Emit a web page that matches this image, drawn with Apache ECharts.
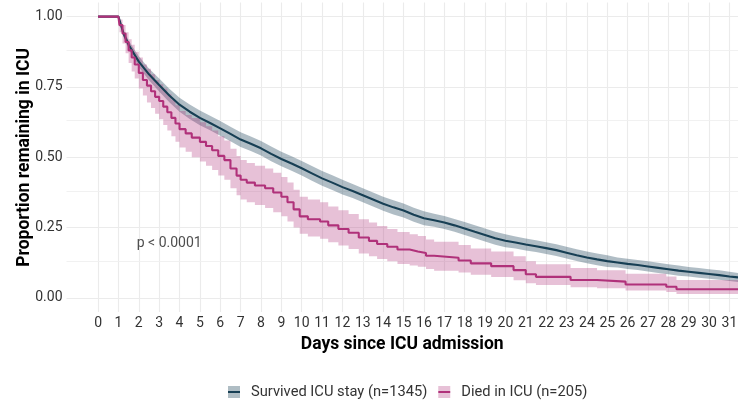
<!DOCTYPE html>
<html>
<head>
<meta charset="utf-8">
<script src="https://cdn.jsdelivr.net/npm/echarts@6/dist/echarts.min.js"></script>
<style>html,body{margin:0;padding:0;background:#fff}#c{width:738px;height:406px}</style>
</head>
<body>
<div id="c"></div>
<script>
// ---------- data ----------
const xTicks = [0,1,2,3,4,5,6,7,8,9,10,11,12,13,14,15,16,17,18,19,20,21,22,23,24,25,26,27,28,29,30,31];
const yTicks = [0, 0.25, 0.5, 0.75, 1];
const yMinorTicks = [0.125, 0.375, 0.625, 0.875];
const seriesNames = ['Survived ICU stay (n=1345)', 'Died in ICU (n=205)'];

const survTime  = [0,1,1.25,1.5,1.75,2,2.5,3,3.5,4,4.5,5,5.5,6,6.5,7,7.5,8,8.5,9,9.5,10,10.5,11,11.5,12,12.5,13,13.5,14,14.5,15,15.5,16,16.5,17,17.5,18,18.5,19,19.5,20,20.5,21,21.5,22,22.5,23,23.5,24,24.5,25,25.5,26,26.5,27,27.5,28,28.5,29,29.5,30,30.5,31,31.42];
const survProb  = [1,1,0.94,0.90,0.87,0.84,0.795,0.757,0.72,0.687,0.662,0.64,0.622,0.603,0.583,0.563,0.548,0.532,0.512,0.494,0.478,0.461,0.443,0.425,0.41,0.394,0.38,0.365,0.35,0.335,0.322,0.311,0.296,0.283,0.276,0.268,0.258,0.247,0.235,0.224,0.212,0.203,0.197,0.19,0.184,0.177,0.17,0.161,0.152,0.144,0.137,0.131,0.126,0.121,0.117,0.112,0.107,0.102,0.097,0.093,0.089,0.085,0.081,0.076,0.073];
const survUpper = [1,1,0.952,0.915,0.887,0.859,0.816,0.780,0.744,0.712,0.688,0.666,0.648,0.629,0.609,0.589,0.574,0.558,0.538,0.520,0.504,0.487,0.469,0.451,0.436,0.420,0.405,0.390,0.375,0.360,0.347,0.336,0.321,0.308,0.299,0.291,0.281,0.270,0.258,0.247,0.235,0.226,0.218,0.211,0.205,0.198,0.191,0.182,0.173,0.165,0.158,0.152,0.144,0.139,0.135,0.130,0.125,0.120,0.115,0.110,0.106,0.102,0.098,0.093,0.089];
const survLower = [1,1,0.928,0.885,0.853,0.821,0.774,0.734,0.696,0.662,0.636,0.614,0.596,0.577,0.557,0.537,0.522,0.506,0.486,0.468,0.452,0.435,0.417,0.399,0.384,0.368,0.355,0.340,0.325,0.310,0.297,0.286,0.271,0.258,0.253,0.245,0.235,0.224,0.212,0.201,0.189,0.180,0.176,0.169,0.163,0.156,0.149,0.140,0.131,0.123,0.116,0.110,0.108,0.103,0.099,0.094,0.089,0.084,0.079,0.076,0.072,0.068,0.065,0.060,0.057];

const diedTime  = [0,1,1.05,1.2,1.35,1.5,1.65,1.8,2,2.2,2.4,2.6,2.8,3,3.2,3.4,3.6,3.8,4,4.3,4.6,5,5.3,5.6,5.9,6.2,6.5,6.8,7,7.3,7.7,8.2,8.6,9,9.3,9.6,9.9,10.3,10.9,11.3,11.8,12.3,12.8,13.3,13.7,14.2,14.7,15.3,15.7,16.1,16.5,17.7,18.3,19.3,20.4,21.0,21.5,23.2,24.5,25.9,27.9,28.4,31.42];
const diedProb  = [1,1,0.97,0.94,0.91,0.88,0.855,0.83,0.80,0.775,0.755,0.735,0.715,0.70,0.68,0.66,0.64,0.62,0.60,0.585,0.57,0.555,0.54,0.525,0.505,0.49,0.46,0.435,0.42,0.41,0.40,0.39,0.375,0.36,0.34,0.315,0.29,0.28,0.272,0.258,0.245,0.232,0.215,0.203,0.192,0.182,0.172,0.165,0.160,0.150,0.143,0.133,0.123,0.113,0.099,0.084,0.075,0.064,0.058,0.048,0.040,0.031,0.031];
const diedUpper = [1,1,0.99,0.97,0.945,0.92,0.90,0.875,0.855,0.83,0.815,0.795,0.775,0.76,0.745,0.725,0.705,0.685,0.665,0.65,0.64,0.625,0.61,0.595,0.575,0.56,0.53,0.505,0.49,0.48,0.47,0.46,0.445,0.43,0.41,0.385,0.36,0.35,0.34,0.325,0.312,0.298,0.28,0.268,0.256,0.245,0.234,0.226,0.22,0.208,0.2,0.188,0.176,0.165,0.148,0.13,0.12,0.106,0.098,0.086,0.076,0.064,0.064];
const diedLower = [1,1,0.945,0.905,0.87,0.835,0.805,0.78,0.745,0.72,0.695,0.675,0.655,0.635,0.615,0.595,0.575,0.555,0.535,0.52,0.50,0.485,0.47,0.455,0.435,0.42,0.39,0.365,0.35,0.34,0.33,0.32,0.305,0.29,0.272,0.25,0.228,0.218,0.21,0.198,0.186,0.174,0.158,0.148,0.138,0.13,0.121,0.115,0.111,0.103,0.097,0.09,0.082,0.074,0.063,0.052,0.046,0.038,0.034,0.026,0.021,0.014,0.014];

const pValueText = 'p < 0.0001';
const pValuePos = [1.9, 0.195];

// ---------- styles ----------
const survColor = '#173F54';
const diedColor = '#B0317A';
const survBand = 'rgba(23,63,84,0.34)';
const diedBand = 'rgba(176,49,122,0.30)';
const survBandSolid = '#afbdc4';
const diedBandSolid = '#e7c1d7';
const FONT = 'Roboto';
const legendIcon = 'path://M0,0H10V4.15H0Z M0,5.85H10V10H0Z';

function bandSeries(t, lo, up, fill, step) {
  return {
    type: 'custom', silent: true, z: 1, clip: true,
    data: [[t[0], lo[0]]],
    encode: { x: 0, y: 1 },
    renderItem: function (params, api) {
      const pts = [];
      for (let i = 0; i < t.length; i++) {
        pts.push(api.coord([t[i], up[i]]));
        if (step && i < t.length - 1) pts.push(api.coord([t[i + 1], up[i]]));
      }
      for (let i = t.length - 1; i >= 0; i--) {
        if (step && i < t.length - 1) pts.push(api.coord([t[i + 1], lo[i]]));
        pts.push(api.coord([t[i], lo[i]]));
      }
      return { type: 'polygon', shape: { points: pts }, style: { fill: fill } };
    }
  };
}

const gridLines = [];
xTicks.forEach(v => gridLines.push({ xAxis: v, lineStyle: { color: '#ebebeb', width: 1.1, type: 'solid' } }));
yTicks.forEach(v => gridLines.push({ yAxis: v, lineStyle: { color: '#ebebeb', width: 1.1, type: 'solid' } }));
yMinorTicks.forEach(v => gridLines.push({ yAxis: v, lineStyle: { color: '#efefef', width: 0.9, type: 'solid' } }));

const chart = echarts.init(document.getElementById('c'), null, { renderer: 'canvas' });
chart.setOption({
  animation: false,
  backgroundColor: '#ffffff',
  grid: { left: 66.5, right: 0, top: 2.6, bottom: 94, containLabel: false, outerBoundsMode: 'none' },
  xAxis: {
    type: 'value', min: -1.55, max: 31.42,
    axisLine: { show: false }, axisTick: { show: false }, splitLine: { show: false },
    axisLabel: { customValues: xTicks, formatter: v => String(v), fontFamily: FONT, fontSize: 14, color: '#333', margin: 4 },
    name: 'Days since ICU admission', nameLocation: 'middle', nameGap: 24, nameMoveOverlap: false,
    nameTextStyle: { fontFamily: FONT, fontWeight: 'bold', fontSize: 17.5, color: '#000' }
  },
  yAxis: {
    type: 'value', min: -0.05, max: 1.05,
    axisLine: { show: false }, axisTick: { show: false }, splitLine: { show: false },
    axisLabel: { customValues: yTicks, formatter: v => v.toFixed(2), fontFamily: FONT, fontSize: 14, color: '#333', margin: 4 },
    name: 'Proportion remaining in ICU', nameLocation: 'middle', nameGap: 33, nameRotate: 90, nameMoveOverlap: false,
    nameTextStyle: { fontFamily: FONT, fontWeight: 'bold', fontSize: 17.5, color: '#000' }
  },
  legend: {
    left: 222, top: 379.5, itemWidth: 12, itemHeight: 15, itemGap: 10, selectedMode: false,
    textStyle: { fontFamily: FONT, fontSize: 14.7, color: '#333', padding: [0, 0, 0, 6] },
    data: [
      { name: seriesNames[0], itemStyle: { color: survBandSolid }, lineStyle: { color: survColor, width: 2 } },
      { name: seriesNames[1], itemStyle: { color: diedBandSolid }, lineStyle: { color: diedColor, width: 2 } }
    ]
  },
  series: [
    {
      type: 'line', silent: true, z: 0, zlevel: 0, data: [[0, 0]], showSymbol: false, lineStyle: { opacity: 0 },
      markLine: { silent: true, z: 0, symbol: ['none', 'none'], label: { show: false }, animation: false, data: gridLines }
    },
    bandSeries(survTime, survLower, survUpper, survBand, false),
    bandSeries(diedTime, diedLower, diedUpper, diedBand, true),
    {
      type: 'line', name: seriesNames[0], silent: true, z: 3,
      data: survTime.map((t, i) => [t, survProb[i]]),
      showSymbol: false, symbol: legendIcon,
      lineStyle: { color: survColor, width: 2.1 }, itemStyle: { color: survColor }
    },
    {
      type: 'line', name: seriesNames[1], silent: true, z: 3, step: 'end',
      data: diedTime.map((t, i) => [t, diedProb[i]]),
      showSymbol: false, symbol: legendIcon,
      lineStyle: { color: diedColor, width: 2.1 }, itemStyle: { color: diedColor }
    },
    {
      type: 'scatter', silent: true, z: 4, symbolSize: 0,
      data: [pValuePos],
      label: { show: true, formatter: pValueText, position: 'right', distance: 0, fontFamily: FONT, fontSize: 14, color: '#222' }
    }
  ]
});
</script>
</body>
</html>
